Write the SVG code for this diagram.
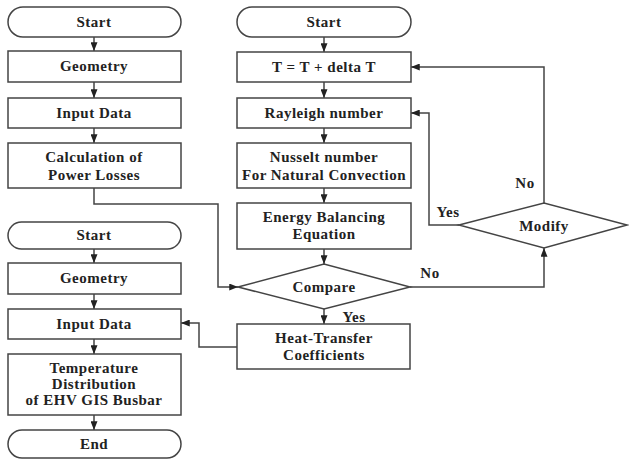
<svg xmlns="http://www.w3.org/2000/svg" width="629" height="459" viewBox="0 0 629 459">
<defs>
<marker id="ah" viewBox="0 0 10 8" refX="10" refY="4" markerWidth="9" markerHeight="7" markerUnits="userSpaceOnUse" orient="auto">
<path d="M0,0 L10,4 L0,8 Z" fill="#222"/>
</marker>
<style>
.b{fill:#fff;stroke:#444;stroke-width:1.5}
.t{font-family:"Liberation Serif","Times New Roman",serif;font-weight:bold;font-size:15px;letter-spacing:0.5px;fill:#222;text-anchor:middle}
.c{fill:none;stroke:#444;stroke-width:1.5}
.a{marker-end:url(#ah)}
</style>
</defs>
<rect width="629" height="459" fill="#fff"/>
<g id="connectors">
<path class="c a" d="M94,37 V51"/>
<path class="c a" d="M94,82 V98"/>
<path class="c a" d="M94,128 V143"/>
<path class="c a" d="M94,188 V204 H218 V287 H238"/>
<path class="c a" d="M324,37 V52"/>
<path class="c a" d="M324,82 V98"/>
<path class="c a" d="M324,128 V143"/>
<path class="c a" d="M324,188 V203"/>
<path class="c a" d="M324,249 V264"/>
<path class="c a" d="M324,309 V324"/>
<path class="c a" d="M237,347 H199 V323 H181"/>
<path class="c a" d="M410,287 H544 V248"/>
<path class="c a" d="M544,203 V67 H411"/>
<path class="c a" d="M459,225 H429 V113 H411"/>
<path class="c a" d="M94,249 V263"/>
<path class="c a" d="M94,294 V309"/>
<path class="c a" d="M94,339 V354"/>
<path class="c a" d="M94,415 V430"/>
<text class="t" x="525" y="188">No</text>
<text class="t" x="448" y="217">Yes</text>
<text class="t" x="430" y="278">No</text>
<text class="t" x="354" y="322">Yes</text>
</g>
<g id="start1"><rect class="b" x="8" y="7" width="173" height="30" rx="15"/><text class="t" x="94" y="27">Start</text></g>
<g id="geometry1"><rect class="b" x="8" y="51" width="173" height="31"/><text class="t" x="94" y="71">Geometry</text></g>
<g id="input1"><rect class="b" x="8" y="98" width="173" height="30"/><text class="t" x="94" y="118">Input Data</text></g>
<g id="calc"><rect class="b" x="8" y="143" width="173" height="45"/><text class="t" x="94" y="162">Calculation of</text><text class="t" x="94" y="180">Power Losses</text></g>
<g id="start2"><rect class="b" x="237" y="7" width="174" height="30" rx="15"/><text class="t" x="324" y="27">Start</text></g>
<g id="tbox"><rect class="b" x="237" y="52" width="174" height="30"/><text class="t" x="324" y="72">T = T + delta T</text></g>
<g id="rayleigh"><rect class="b" x="237" y="98" width="174" height="30"/><text class="t" x="324" y="118">Rayleigh number</text></g>
<g id="nusselt"><rect class="b" x="237" y="143" width="174" height="45"/><text class="t" x="324" y="162">Nusselt number</text><text class="t" x="324" y="180">For Natural Convection</text></g>
<g id="energy"><rect class="b" x="237" y="203" width="174" height="46"/><text class="t" x="324" y="222">Energy Balancing</text><text class="t" x="324" y="239">Equation</text></g>
<g id="compare"><polygon class="b" points="238,287 324,264 410,287 324,309"/><text class="t" x="324" y="292">Compare</text></g>
<g id="heat"><rect class="b" x="237" y="324" width="173" height="45"/><text class="t" x="324" y="343">Heat-Transfer</text><text class="t" x="324" y="360">Coefficients</text></g>
<g id="modify"><polygon class="b" points="459,225 544,203 627,225 544,248"/><text class="t" x="544" y="231">Modify</text></g>
<g id="start3"><rect class="b" x="8" y="222" width="173" height="27" rx="13.5"/><text class="t" x="94" y="240">Start</text></g>
<g id="geometry3"><rect class="b" x="8" y="263" width="173" height="31"/><text class="t" x="94" y="283">Geometry</text></g>
<g id="input3"><rect class="b" x="8" y="309" width="173" height="30"/><text class="t" x="94" y="329">Input Data</text></g>
<g id="temp"><rect class="b" x="8" y="354" width="173" height="61"/><text class="t" x="94" y="373">Temperature</text><text class="t" x="94" y="389">Distribution</text><text class="t" x="94" y="405">of EHV GIS Busbar</text></g>
<g id="end"><rect class="b" x="8" y="430" width="173" height="28" rx="14"/><text class="t" x="94" y="449">End</text></g>
</svg>
